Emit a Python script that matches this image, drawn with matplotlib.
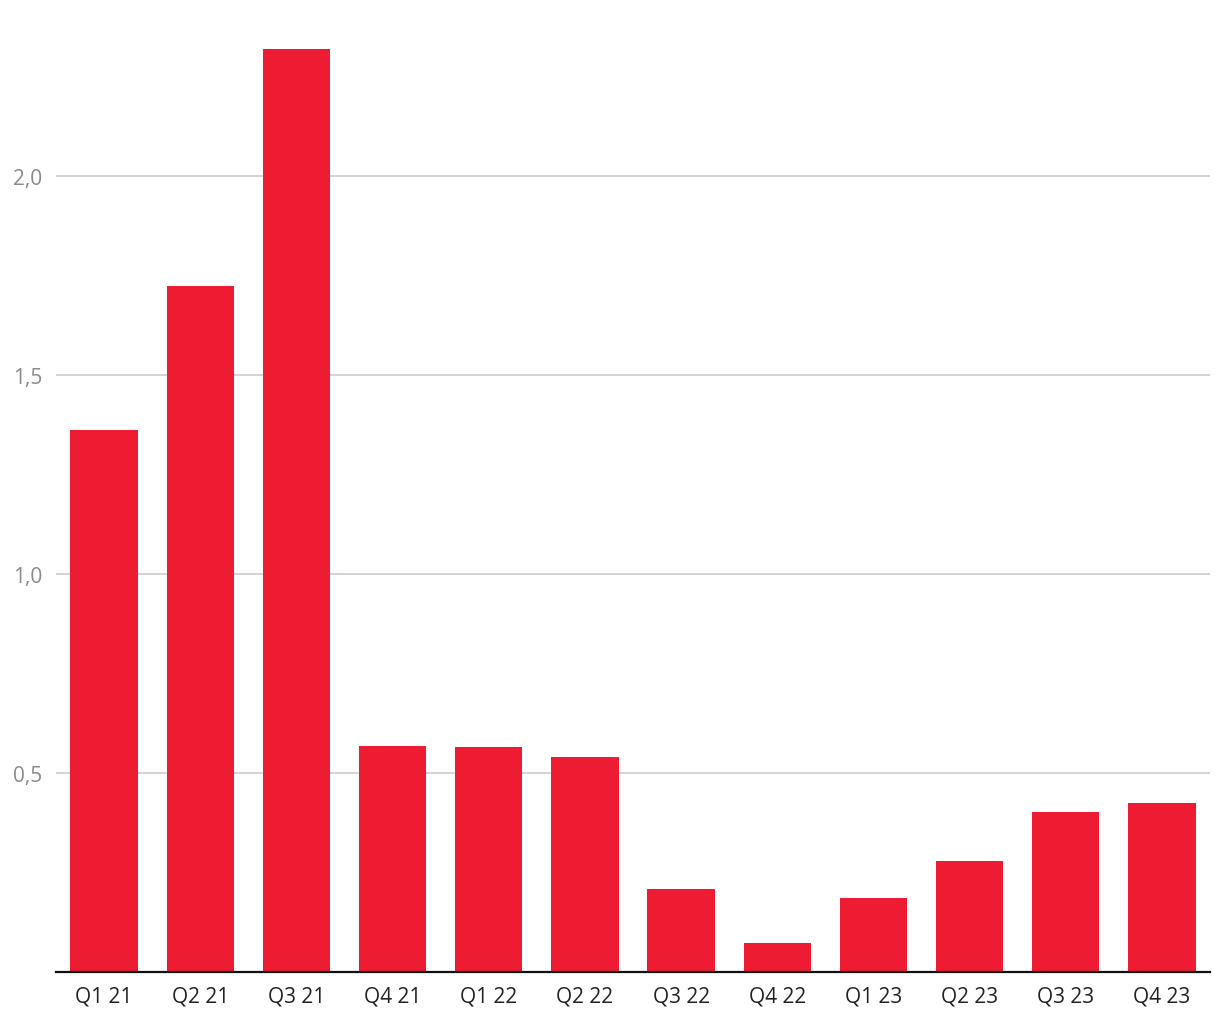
import matplotlib.pyplot as plt
from matplotlib.ticker import FuncFormatter

# quarterly values
quarters = ['Q1 21', 'Q2 21', 'Q3 21', 'Q4 21', 'Q1 22', 'Q2 22',
            'Q3 22', 'Q4 22', 'Q1 23', 'Q2 23', 'Q3 23', 'Q4 23']
values = [1.362, 1.724, 2.319, 0.568, 0.565, 0.540,
          0.209, 0.073, 0.186, 0.279, 0.402, 0.425]
y_ticks = [0.5, 1.0, 1.5, 2.0]

plt.rcParams['font.family'] = ['Open Sans', 'DejaVu Sans']

fig = plt.figure(figsize=(12.2, 10.2), dpi=100)
ax = fig.add_axes([0.0459, 0.046, 0.9459, 0.9363])

x = range(len(quarters))
ax.bar(x, values, width=0.7, color='#ed1c33', zorder=2)

ax.set_xlim(-0.5, len(quarters) - 0.5)
ax.set_ylim(0, 2.4)
ax.set_yticks(y_ticks)
ax.yaxis.set_major_formatter(FuncFormatter(lambda v, p: f'{v:.1f}'.replace('.', ',')))
ax.set_xticks(list(x))
ax.set_xticklabels(quarters)

ax.grid(axis='y', color='#cccccc', linewidth=1.2, zorder=0)
for s in ['top', 'right', 'left']:
    ax.spines[s].set_visible(False)
ax.spines['bottom'].set_color('#111111')
ax.spines['bottom'].set_linewidth(1.6)
ax.spines['bottom'].set_zorder(3)

ax.tick_params(axis='y', length=0, pad=10, labelsize=15, labelcolor='#8a8a8a')
ax.tick_params(axis='x', length=0, pad=10, labelsize=15, labelcolor='#222222')

fig.savefig('out.png', dpi=100)
